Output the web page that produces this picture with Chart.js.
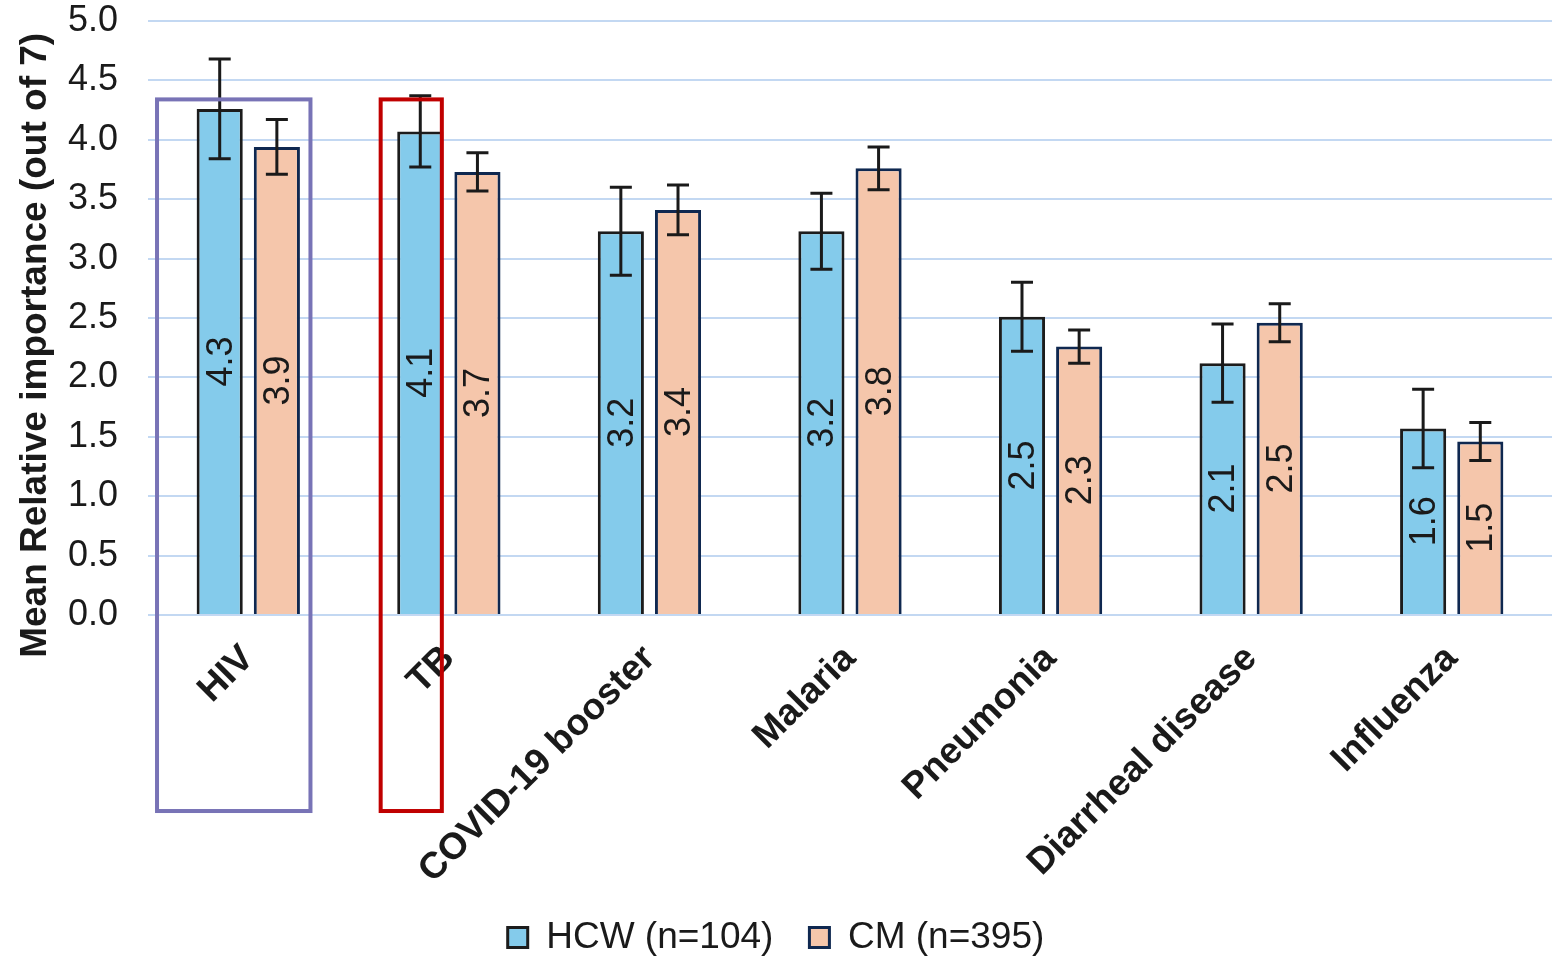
<!DOCTYPE html>
<html>
<head>
<meta charset="utf-8">
<script src="https://cdn.jsdelivr.net/npm/chart.js@4/dist/chart.umd.min.js"></script>
<style>
  html, body { margin: 0; padding: 0; background: #ffffff; }
  #wrap { width: 1562px; height: 958px; position: relative; }
</style>
</head>
<body>
<div id="wrap"><canvas id="c" width="1562" height="958"></canvas></div>
<script>
const categories = ["HIV", "TB", "COVID-19 booster", "Malaria", "Pneumonia", "Diarrheal disease", "Influenza"];
const hcwValues = [4.26, 4.07, 3.23, 3.23, 2.51, 2.12, 1.57];
const hcwErrors = [0.42, 0.30, 0.37, 0.32, 0.29, 0.33, 0.33];
const cmValues  = [3.94, 3.73, 3.41, 3.76, 2.26, 2.46, 1.46];
const cmErrors  = [0.23, 0.16, 0.21, 0.18, 0.14, 0.16, 0.16];
const seriesNames = ["HCW (n=104)", "CM (n=395)"];
const yTicks = [0, 0.5, 1, 1.5, 2, 2.5, 3, 3.5, 4, 4.5, 5];
const yTitle = "Mean Relative importance (out of 7)";

// highlight boxes around categories
const highlightCats = [0, 1];
const highlightColors = ["#7873b6", "#c00000"];

const FONT = "'Liberation Sans', Arial, sans-serif";
const TXT = "#1a1a1a";

const errorBarPlugin = {
  id: "errorBars",
  afterDatasetsDraw(chart) {
    const ctx = chart.ctx;
    const y = chart.scales.y;
    const errs = [hcwErrors, cmErrors];
    ctx.save();
    ctx.strokeStyle = "#1a1a1a";
    ctx.lineWidth = 3;
    chart.data.datasets.forEach((ds, di) => {
      const meta = chart.getDatasetMeta(di);
      meta.data.forEach((bar, i) => {
        const v = ds.data[i], e = errs[di][i];
        const yTop = y.getPixelForValue(v + e), yBot = y.getPixelForValue(v - e);
        const x = bar.x, cap = 11;
        ctx.beginPath();
        ctx.moveTo(x, yTop); ctx.lineTo(x, yBot);
        ctx.moveTo(x - cap, yTop); ctx.lineTo(x + cap, yTop);
        ctx.moveTo(x - cap, yBot); ctx.lineTo(x + cap, yBot);
        ctx.stroke();
      });
    });
    ctx.restore();
  }
};

const valueLabelPlugin = {
  id: "valueLabels",
  afterDatasetsDraw(chart) {
    const ctx = chart.ctx;
    ctx.save();
    ctx.font = "36px " + FONT;
    ctx.fillStyle = TXT;
    ctx.textAlign = "center";
    ctx.textBaseline = "middle";
    chart.data.datasets.forEach((ds, di) => {
      const meta = chart.getDatasetMeta(di);
      meta.data.forEach((bar, i) => {
        const cy = (bar.y + bar.base) / 2;
        ctx.save();
        ctx.translate(bar.x, cy);
        ctx.rotate(-Math.PI / 2);
        ctx.fillText(ds.data[i].toFixed(1), 0, 2);
        ctx.restore();
      });
    });
    ctx.restore();
  }
};

const highlightPlugin = {
  id: "highlight",
  afterDraw(chart) {
    const ctx = chart.ctx;
    const x = chart.scales.x, y = chart.scales.y;
    const cw = (x.right - x.left) / categories.length;
    const specs = [
      { from: -0.455, to: 0.31 },
      { from: -0.34, to: -0.035 }
    ];
    ctx.save();
    ctx.lineWidth = 4;
    highlightCats.forEach((ci, k) => {
      const c = x.getPixelForValue(ci);
      const l = c + specs[k].from * cw, r = c + specs[k].to * cw;
      const t = y.getPixelForValue(4.34), b = y.getPixelForValue(-1.65);
      ctx.strokeStyle = highlightColors[k];
      ctx.strokeRect(l, t, r - l, b - t);
    });
    ctx.restore();
  }
};

const yTitlePlugin = {
  id: "yTitle",
  afterDraw(chart) {
    const ctx = chart.ctx;
    const y = chart.scales.y;
    ctx.save();
    ctx.font = "bold 37px " + FONT;
    ctx.fillStyle = TXT;
    ctx.textAlign = "center";
    ctx.textBaseline = "middle";
    ctx.translate(36, y.getPixelForValue(2.27));
    ctx.rotate(-Math.PI / 2);
    ctx.fillText(yTitle, 0, 0);
    ctx.restore();
  }
};

new Chart(document.getElementById("c"), {
  type: "bar",
  data: {
    labels: categories,
    datasets: [
      { label: seriesNames[0], data: hcwValues, backgroundColor: "#84cbeb", borderColor: "#1c1c1c", borderWidth: 3,
        categoryPercentage: 0.57, barPercentage: 0.807 },
      { label: seriesNames[1], data: cmValues, backgroundColor: "#f5c6ab", borderColor: "#0f2850", borderWidth: 3,
        categoryPercentage: 0.57, barPercentage: 0.807 }
    ]
  },
  options: {
    responsive: false,
    animation: false,
    devicePixelRatio: 1,
    layout: { padding: { left: 0, right: 10, top: 21, bottom: -8 } },
    plugins: {
      legend: {
        position: "bottom",
        labels: {
          font: { family: FONT, size: 37 },
          color: TXT,
          boxWidth: 20, boxHeight: 20,
          padding: 36,
          useBorderRadius: false
        }
      },
      tooltip: { enabled: false }
    },
    scales: {
      x: {
        grid: { display: false },
        border: { display: false },
        ticks: {
          font: { family: FONT, size: 37, weight: "bold" },
          color: TXT,
          minRotation: 45, maxRotation: 45,
          padding: 14
        },
        afterFit(scale) { scale.height = 268; }
      },
      y: {
        min: 0, max: 5,
        afterBuildTicks(scale) { scale.ticks = yTicks.map(v => ({ value: v })); },
        grid: { color: "#c3d8f2", lineWidth: 2, drawTicks: false },
        border: { display: false },
        ticks: {
          font: { family: FONT, size: 36 },
          color: TXT,
          padding: 30,
          callback: v => v.toFixed(1)
        },
        title: { display: false },
        afterFit(scale) { scale.width = 148; scale.paddingTop = 0; scale.paddingBottom = 0; }
      }
    }
  },
  plugins: [errorBarPlugin, valueLabelPlugin, highlightPlugin, yTitlePlugin]
});
</script>
</body>
</html>
